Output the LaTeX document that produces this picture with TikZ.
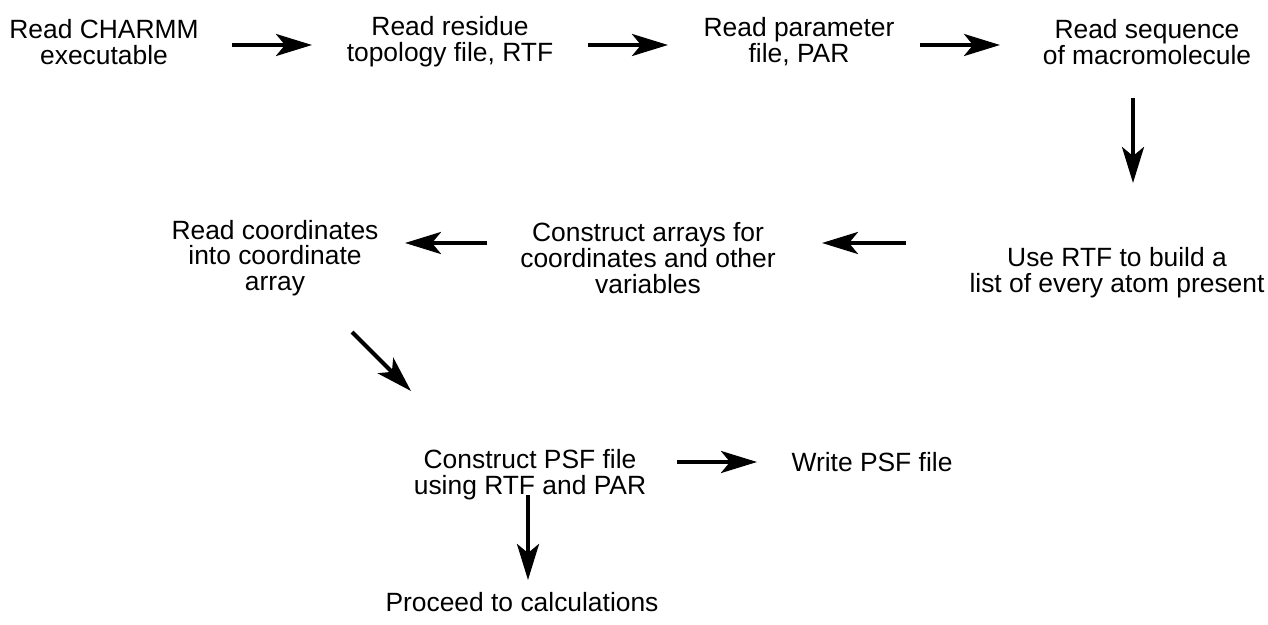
\documentclass[tikz,border=0pt]{standalone}
\usepackage{fontspec}
\setmainfont{Liberation Sans}
\usetikzlibrary{arrows.meta}
\begin{document}
\begin{tikzpicture}[x=0.5pt,y=-0.5pt,
  lbl/.style={align=center,inner sep=0pt,font=\fontsize{13.2}{12.9}\selectfont},
  flow/.style={line width=2pt,-{Stealth[length=18pt,width=11pt,inset=4.5pt]}}]
\useasboundingbox (0,0) rectangle (1268,625);
\node[lbl] (a) at (104,42) {Read CHARMM\\executable};
\node[lbl] (b) at (450,42) {Read residue\\topology file, RTF};
\node[lbl] (c) at (799,42) {Read parameter\\file, PAR};
\node[lbl] (d) at (1147,42) {Read sequence\\of macromolecule};
\node[lbl] (e) at (1117,273) {Use RTF to build a\\list of every atom present};
\node[lbl] (f) at (648,258) {Construct arrays for\\coordinates and other\\variables};
\node[lbl] (g) at (275,258) {Read coordinates\\into coordinate\\array};
\node[lbl] (h) at (530,475) {Construct PSF file\\using RTF and PAR};
\node[lbl] (i) at (872,462) {Write PSF file};
\node[lbl] (j) at (522,602) {Proceed to calculations};
\draw[flow] ([shift={(128,3)}]a.center) -- ([shift={(-138,3)}]b.center);
\draw[flow] ([shift={(138,3)}]b.center) -- ([shift={(-131,3)}]c.center);
\draw[flow] ([shift={(121,3)}]c.center) -- ([shift={(-147,3)}]d.center);
\draw[flow] ([shift={(-14,56)}]d.center) -- ([shift={(16,-90)}]e.center);
\draw[flow] ([shift={(-211,-30)}]e.center) -- ([shift={(174,-15)}]f.center);
\draw[flow] ([shift={(-161,-15)}]f.center) -- ([shift={(130,-15)}]g.center);
\draw[flow] ([shift={(77,74)}]g.center) -- ([shift={(-119,-84)}]h.center);
\draw[flow] ([shift={(147,-13)}]h.center) -- ([shift={(-115,0)}]i.center);
\draw[flow] ([shift={(-2,20)}]h.center) -- ([shift={(6,-22)}]j.center);
\end{tikzpicture}
\end{document}
